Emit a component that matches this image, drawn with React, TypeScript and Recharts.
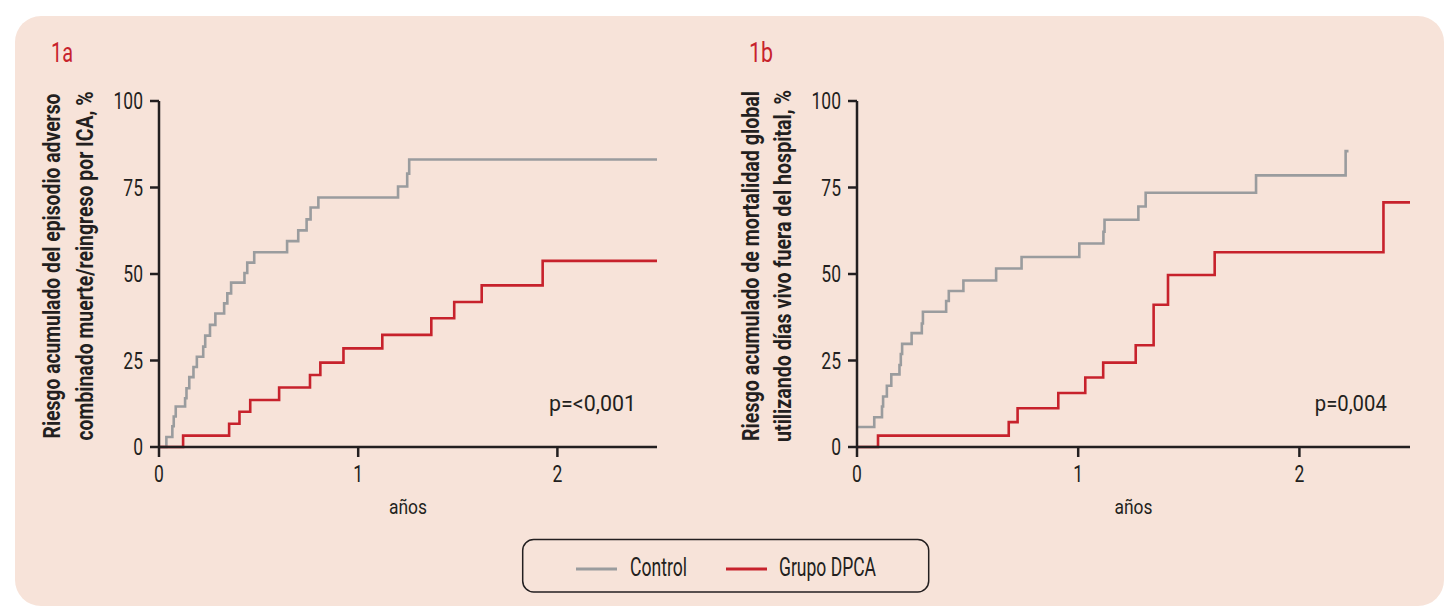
import React from 'react';
import { LineChart, Line, XAxis, YAxis, ReferenceDot } from 'recharts';

const FONT = "Roboto, 'Noto Sans', 'Liberation Sans', sans-serif";
const INK = '#231f20';
const GRAY = '#9a9c9e';
const RED = '#c7222c';
const PANEL = '#f7e3d9';
const SQUEEZE = 0.76;

const xTicks = [0, 1, 2];
const yTicks = [0, 25, 50, 75, 100];

// Figure 1a
const controlA_t = [0, 0.037, 0.067, 0.074, 0.084, 0.131, 0.138, 0.152, 0.173, 0.19, 0.222, 0.232, 0.256, 0.283, 0.327, 0.343, 0.362, 0.429, 0.443, 0.478, 0.643, 0.699, 0.741, 0.761, 0.8, 1.2, 1.246, 1.256, 2.5];
const controlA_v = [0, 2.9, 6.0, 8.8, 11.7, 14.1, 17.0, 20.2, 23.1, 26.1, 29.0, 32.2, 35.3, 38.6, 41.5, 44.4, 47.5, 50.3, 53.3, 56.3, 59.5, 62.6, 65.8, 69.2, 72.1, 75.3, 79.0, 83.1, 83.1];
const dpcaA_t = [0, 0.121, 0.352, 0.404, 0.458, 0.603, 0.758, 0.81, 0.926, 1.121, 1.367, 1.482, 1.62, 1.926, 2.5];
const dpcaA_v = [0, 3.3, 6.7, 10.2, 13.6, 17.2, 20.8, 24.4, 28.5, 32.4, 37.2, 41.9, 46.7, 53.8, 53.8];

// Figure 1b
const controlB_t = [0, 0.078, 0.113, 0.118, 0.135, 0.155, 0.192, 0.198, 0.204, 0.247, 0.293, 0.298, 0.403, 0.415, 0.481, 0.629, 0.744, 1.005, 1.114, 1.119, 1.272, 1.305, 1.804, 2.209, 2.222];
const controlB_v = [5.8, 8.6, 11.7, 14.6, 17.7, 21.0, 23.7, 26.9, 29.8, 32.9, 35.7, 39.1, 42.2, 45.1, 48.1, 51.6, 54.9, 58.8, 62.2, 65.7, 69.5, 73.5, 78.5, 85.5, 85.5];
const dpcaB_t = [0, 0.095, 0.686, 0.726, 0.91, 1.032, 1.113, 1.26, 1.341, 1.406, 1.617, 2.38, 2.5];
const dpcaB_v = [0, 3.3, 7.2, 11.2, 15.6, 20.1, 24.4, 29.4, 41.1, 49.7, 56.3, 70.7, 70.7];

const labelA = ['Riesgo acumulado del episodio adverso', 'combinado muerte/reingreso por ICA, %'];
const labelB = ['Riesgo acumulado de mortalidad global', 'utilizando días vivo fuera del hospital, %'];
const labelA_len = [345, 349];
const labelB_len = [350, 352];
const pA = 'p=<0,001';
const pB = 'p=0,004';
const seriesNames = ['Control', 'Grupo DPCA'];
const xLabel = 'años';

const toPoints = (t: number[], v: number[]) => t.map((x, i) => ({ t: x, v: v[i] }));

function YLabel({ lines, lens, xs, cy }: { lines: string[]; lens: number[]; xs: number[]; cy: number }) {
  return (
    <g>
      {lines.map((l, i) => (
        <text
          key={i}
          x={xs[i]}
          y={cy}
          transform={`rotate(-90 ${xs[i]} ${cy})`}
          textAnchor="middle"
          dominantBaseline="central"
          fontFamily={FONT}
          fontWeight="bold"
          fontSize={23}
          fill={INK}
          textLength={lens[i]}
          lengthAdjust="spacingAndGlyphs"
        >
          {l}
        </text>
      ))}
    </g>
  );
}

function SqueezedTick(props: any) {
  const { x, y, payload, textAnchor, axis } = props;
  const dy = axis === 'x' ? '0.71em' : '0.355em';
  return (
    <g transform={`translate(${x},${y}) scale(${SQUEEZE},1)`}>
      <text x={0} y={0} dy={dy} textAnchor={textAnchor} fill={INK} fontSize={23} fontFamily={FONT}>
        {payload.value}
      </text>
    </g>
  );
}

function PLabel(props: any) {
  const { viewBox, text, len } = props;
  const cx = viewBox.x + viewBox.width / 2;
  const cy = viewBox.y + viewBox.height / 2;
  return (
    <text x={cx} y={cy} textAnchor="end" fill={INK} fontSize={22} fontFamily={FONT} textLength={len} lengthAdjust="spacingAndGlyphs">
      {text}
    </text>
  );
}

function XLabel(props: any) {
  const { viewBox } = props;
  const cx = viewBox.x + viewBox.width / 2;
  return (
    <text x={cx} y={viewBox.y + 67} textAnchor="middle" fill={INK} fontSize={21} fontFamily={FONT} textLength={38} lengthAdjust="spacingAndGlyphs">
      {xLabel}
    </text>
  );
}

function KMChart({
  width,
  control,
  dpca,
  lines,
  lens,
  xs,
  pText,
  pLen,
}: {
  width: number;
  control: { t: number; v: number }[];
  dpca: { t: number; v: number }[];
  lines: string[];
  lens: number[];
  xs: number[];
  pText: string;
  pLen: number;
}) {
  return (
    <LineChart width={width} height={525} margin={{ top: 101, right: 10, bottom: 0, left: 0 }}>
      <XAxis
        dataKey="t"
        type="number"
        domain={[0, 2.5]}
        ticks={xTicks}
        allowDataOverflow
        axisLine={{ stroke: INK, strokeWidth: 2.5 }}
        tickLine={{ stroke: INK, strokeWidth: 2.5 }}
        tickSize={10}
        tickMargin={9}
        tick={<SqueezedTick axis="x" />}
        height={78}
        label={<XLabel />}
      />
      <YAxis
        dataKey="v"
        type="number"
        domain={[0, 100]}
        ticks={yTicks}
        width={139}
        axisLine={{ stroke: INK, strokeWidth: 2.5 }}
        tickLine={{ stroke: INK, strokeWidth: 2.5 }}
        tickSize={9}
        tickMargin={7}
        tick={<SqueezedTick axis="y" />}
        label={<YLabel lines={lines} lens={lens} xs={xs} cy={266} />}
      />
      <Line data={control} dataKey="v" name={seriesNames[0]} type="stepAfter" stroke={GRAY} strokeWidth={2.6} dot={false} isAnimationActive={false} />
      <Line data={dpca} dataKey="v" name={seriesNames[1]} type="stepAfter" stroke={RED} strokeWidth={2.6} dot={false} isAnimationActive={false} />
      <ReferenceDot
        x={2.395}
        y={10.5}
        r={1}
        fill="none"
        stroke="none"
        label={(p: any) => <PLabel {...p} text={pText} len={pLen} />}
      />
    </LineChart>
  );
}

export default function App() {
  return (
    <div style={{ position: 'absolute', left: 0, top: 0, width: 1454, height: 607, background: '#ffffff', overflow: 'hidden' }}>
      <div
        style={{
          position: 'absolute',
          left: 15,
          top: 16,
          width: 1429,
          height: 590,
          background: PANEL,
          borderRadius: 26,
        }}
      />
      <div style={{ position: 'absolute', left: 20, top: 0 }}>
        <KMChart width={647} control={toPoints(controlA_t, controlA_v)} dpca={toPoints(dpcaA_t, dpcaA_v)} lines={labelA} lens={labelA_len} xs={[32, 65]} pText={pA} pLen={87} />
      </div>
      <div style={{ position: 'absolute', left: 718, top: 0 }}>
        <KMChart width={702} control={toPoints(controlB_t, controlB_v)} dpca={toPoints(dpcaB_t, dpcaB_v)} lines={labelB} lens={labelB_len} xs={[33, 65]} pText={pB} pLen={72} />
      </div>
      <svg width={1454} height={607} style={{ position: 'absolute', left: 0, top: 0, pointerEvents: 'none' }}>
        <text x={51} y={62} fill={RED} fontSize={28} fontFamily={FONT} textLength={22} lengthAdjust="spacingAndGlyphs">1a</text>
        <text x={749} y={62} fill={RED} fontSize={28} fontFamily={FONT} textLength={24} lengthAdjust="spacingAndGlyphs">1b</text>
        <rect x={522.7} y={539.5} width={406} height={52.5} rx={11} ry={11} fill="none" stroke={INK} strokeWidth={1.5} />
        <line x1={576} x2={617} y1={569} y2={569} stroke={GRAY} strokeWidth={3} />
        <text x={630} y={576} fill={INK} fontSize={25} fontFamily={FONT} textLength={57} lengthAdjust="spacingAndGlyphs">{seriesNames[0]}</text>
        <line x1={726} x2={767} y1={569} y2={569} stroke={RED} strokeWidth={3} />
        <text x={779} y={576} fill={INK} fontSize={25} fontFamily={FONT} textLength={97} lengthAdjust="spacingAndGlyphs">{seriesNames[1]}</text>
      </svg>
    </div>
  );
}
